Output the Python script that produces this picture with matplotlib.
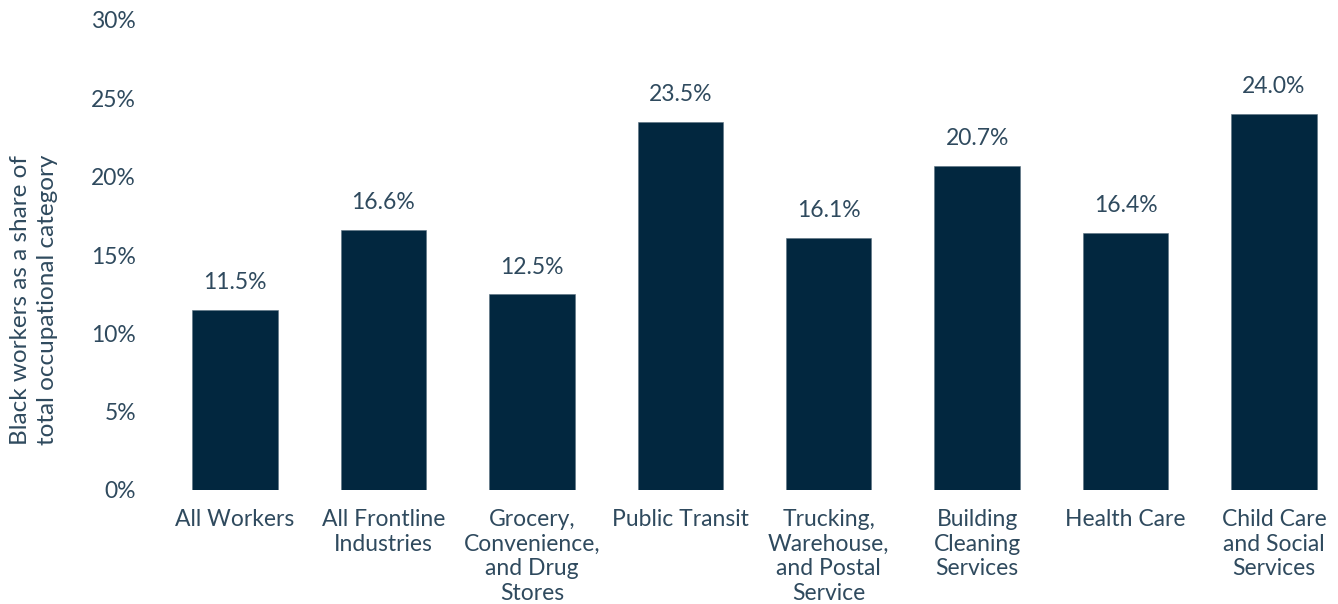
import matplotlib
matplotlib.use("Agg")
import matplotlib.pyplot as plt
from matplotlib.ticker import FuncFormatter

categories = ["All Workers", "All Frontline\nIndustries", "Grocery,\nConvenience,\nand Drug\nStores",
              "Public Transit", "Trucking,\nWarehouse,\nand Postal\nService", "Building\nCleaning\nServices",
              "Health Care", "Child Care\nand Social\nServices"]
values = [11.5, 16.6, 12.5, 23.5, 16.1, 20.7, 16.4, 24.0]
yticks = [0, 5, 10, 15, 20, 25, 30]

bar_color = "#02273f"
text_color = "#2f4a5e"
plt.rcParams['font.family'] = ['Lato', 'DejaVu Sans']

W, H = 1338, 604
fig = plt.figure(figsize=(W/100, H/100), dpi=100)
ax = fig.add_axes([150/W, (H-490)/H, (1320-150)/W, (490-20)/H])

x = list(range(len(categories)))
ax.bar(x, values, width=0.575, color=bar_color, edgecolor="#5a7080", linewidth=0.4)
for xi, v in zip(x, values):
    ax.annotate(f"{v:.1f}%", (xi, v), xytext=(0, 12), textcoords="offset points",
                ha="center", va="bottom", fontsize=16.5, color=text_color)

ax.set_xlim(-0.573, 7.31)
ax.set_ylim(0, 30)
ax.set_yticks(yticks)
ax.yaxis.set_major_formatter(FuncFormatter(lambda v, p: f"{v:.0f}%"))
ax.set_xticks(x)
ax.set_xticklabels(categories, linespacing=1.2)
ax.tick_params(axis="both", length=0, labelsize=16.5, labelcolor=text_color)
ax.tick_params(axis="x", pad=14)
ax.tick_params(axis="y", pad=10)
for s in ax.spines.values():
    s.set_visible(False)

fig.text(34/W, 1 - 300/H, "Black workers as a share of\ntotal occupational category",
         rotation=90, ha="center", va="center", fontsize=17.5, color=text_color, linespacing=1.35)

fig.savefig("out.png", dpi=100)
